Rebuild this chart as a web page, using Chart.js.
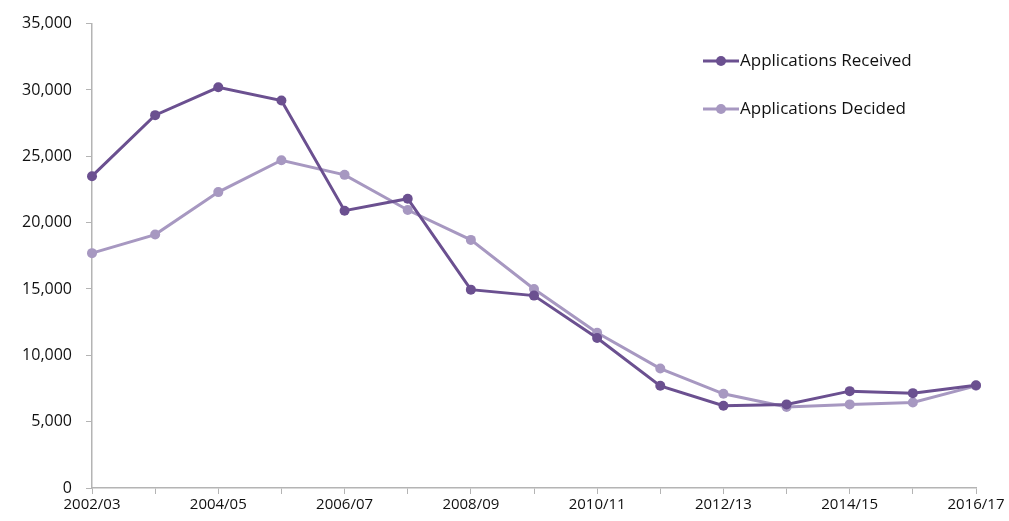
<!DOCTYPE html>
<html>
<head>
<meta charset="utf-8">
<script src="https://cdn.jsdelivr.net/npm/chart.js@4/dist/chart.umd.min.js"></script>
<style>
  html, body { margin: 0; padding: 0; background: #fff; }
  #wrap { width: 1009px; height: 521px; position: relative; }
</style>
</head>
<body>
<div id="wrap"><canvas id="c" width="1009" height="521"></canvas></div>
<script>
const years = ['2002/03','2003/04','2004/05','2005/06','2006/07','2007/08','2008/09','2009/10',
               '2010/11','2011/12','2012/13','2013/14','2014/15','2015/16','2016/17'];
const received = [23500, 28100, 30200, 29200, 20900, 21800, 14950, 14500, 11300, 7700, 6200, 6300, 7300, 7150, 7750];
const decided  = [17700, 19100, 22300, 24700, 23600, 20950, 18700, 15000, 11700, 9000, 7100, 6100, 6300, 6450, 7700];
const yTicks = [0, 5000, 10000, 15000, 20000, 25000, 30000, 35000];

const darkPurple = '#6b5090';
const lightPurple = '#a798c1';
const axisGrey = '#b4b4b4';
const fontFamily = '"Open Sans", Lato, sans-serif';

// Vertical legend drawn in the upper right of the plot
const sideLegend = {
  id: 'sideLegend',
  afterDraw(chart) {
    const ctx = chart.ctx;
    const x0 = 703, lineLen = 36, rowY = [61, 109];
    ctx.save();
    chart.data.datasets.forEach((ds, i) => {
      const y = rowY[i];
      ctx.strokeStyle = ds.borderColor;
      ctx.lineWidth = 3;
      ctx.beginPath();
      ctx.moveTo(x0, y);
      ctx.lineTo(x0 + lineLen, y);
      ctx.stroke();
      ctx.fillStyle = ds.borderColor;
      ctx.beginPath();
      ctx.arc(x0 + lineLen / 2, y, 5, 0, Math.PI * 2);
      ctx.fill();
      ctx.fillStyle = '#111';
      ctx.font = '17px ' + fontFamily;
      ctx.textBaseline = 'middle';
      ctx.textAlign = 'left';
      ctx.fillText(ds.label, x0 + lineLen + 1, y);
    });
    ctx.restore();
  }
};

new Chart(document.getElementById('c'), {
  type: 'line',
  data: {
    labels: years,
    datasets: [
      { label: 'Applications Received', data: received, borderColor: darkPurple, backgroundColor: darkPurple,
        borderWidth: 3, pointRadius: 5, pointBackgroundColor: darkPurple, pointBorderWidth: 0, tension: 0 },
      { label: 'Applications Decided', data: decided, borderColor: lightPurple, backgroundColor: lightPurple,
        borderWidth: 3, pointRadius: 5, pointBackgroundColor: lightPurple, pointBorderWidth: 0, tension: 0 }
    ]
  },
  options: {
    responsive: false,
    animation: false,
    layout: { padding: { top: 12, right: 33, left: 0, bottom: 0 } },
    plugins: { legend: { display: false }, tooltip: { enabled: false } },
    scales: {
      x: {
        offset: false,
        grid: { display: true, drawOnChartArea: false, drawTicks: true, tickLength: 6, color: axisGrey },
        border: { color: axisGrey, width: 1.5 },
        ticks: {
          autoSkip: false, maxRotation: 0, padding: 2, color: '#111',
          font: { family: fontFamily, size: 15 },
          callback: (v, i) => (i % 2 === 0 ? years[i] : '')
        },
        afterFit: s => { s.height = 33; }
      },
      y: {
        min: 0, max: 35000,
        afterBuildTicks: s => { s.ticks = yTicks.map(v => ({ value: v })); },
        grid: { display: true, drawOnChartArea: false, drawTicks: true, tickLength: 6, color: axisGrey },
        border: { color: axisGrey, width: 1.5 },
        ticks: {
          padding: 14, color: '#111',
          font: { family: fontFamily, size: 16 },
          callback: v => v.toLocaleString('en-GB')
        },
        afterFit: s => { s.width = 92; }
      }
    }
  },
  plugins: [sideLegend]
});
</script>
</body>
</html>
